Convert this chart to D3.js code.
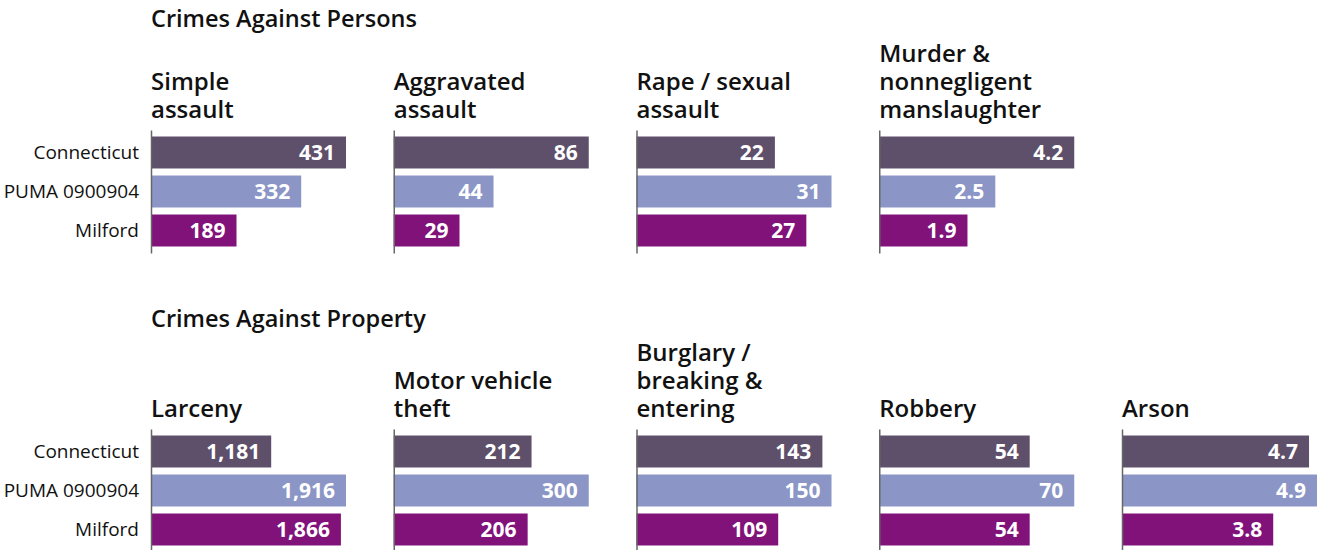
<!DOCTYPE html>
<html>
<head>
<meta charset="utf-8">
<script src="https://cdn.jsdelivr.net/npm/d3@7"></script>
<style>
  body { margin: 0; background: #fff; }
  svg { display: block; font-family: "Open Sans", sans-serif; }
</style>
</head>
<body>
<svg width="1320" height="550"></svg>
<script>
// places shown in every panel, top to bottom
var places = ["Connecticut", "PUMA 0900904", "Milford"];
var placeColors = ["#5e4f6a", "#8b96c7", "#81127a"];

// Crimes against persons (rate values per panel, same order as places)
var personsCrimes = ["Simple\nassault", "Aggravated\nassault", "Rape / sexual\nassault", "Murder &\nnonnegligent\nmanslaughter"];
var simpleAssault = [431, 332, 189];
var aggravatedAssault = [86, 44, 29];
var rapeSexualAssault = [22, 31, 27];
var murder = [4.2, 2.5, 1.9];

// Crimes against property
var propertyCrimes = ["Larceny", "Motor vehicle\ntheft", "Burglary /\nbreaking &\nentering", "Robbery", "Arson"];
var larceny = [1181, 1916, 1866];
var motorVehicleTheft = [212, 300, 206];
var burglary = [143, 150, 109];
var robbery = [54, 70, 54];
var arson = [4.7, 4.9, 3.8];

var svg = d3.select("svg");

var panelX = d3.scalePoint().domain(d3.range(5)).range([151, 1122]);
var barMax = 195;

function fmt(v) {
  return v < 10 ? d3.format(".1f")(v) : d3.format(",")(v);
}

function drawGroup(title, titleY, crimes, values, top) {
  svg.append("text")
    .attr("x", 151)
    .attr("y", titleY)
    .attr("font-size", "23.5px")
    .attr("font-weight", 600)
    .attr("fill", "#111")
    .text(title);

  var y = d3.scaleBand()
    .domain(places)
    .range([top, top + 123])
    .paddingInner(0.18)
    .paddingOuter(0.167);

  crimes.forEach(function (crime, i) {
    var g = svg.append("g")
      .attr("transform", "translate(" + panelX(i) + ",0)");
    var vals = values[i];
    var x = d3.scaleLinear()
      .domain([0, d3.max(vals)])
      .range([0, barMax]);

    // panel title, bottom aligned above the bars
    var lines = crime.split("\n");
    g.append("text")
      .attr("font-size", "24px")
      .attr("font-weight", 600)
      .attr("fill", "#111")
      .selectAll("tspan")
      .data(lines)
      .enter()
      .append("tspan")
      .attr("x", 0)
      .attr("y", function (d, j) {
        return top - 12 - (lines.length - 1 - j) * 28;
      })
      .text(function (d) { return d; });

    g.selectAll("rect")
      .data(vals)
      .enter()
      .append("rect")
      .attr("x", 0)
      .attr("y", function (d, j) { return y(places[j]); })
      .attr("width", function (d) { return x(d); })
      .attr("height", y.bandwidth())
      .attr("fill", function (d, j) { return placeColors[j]; });

    g.selectAll(".val")
      .data(vals)
      .enter()
      .append("text")
      .attr("class", "val")
      .attr("x", function (d) { return x(d) - 11; })
      .attr("y", function (d, j) { return y(places[j]) + y.bandwidth() / 2; })
      .attr("dy", "0.36em")
      .attr("text-anchor", "end")
      .attr("font-size", "21px")
      .attr("font-weight", 700)
      .attr("fill", "#fff")
      .text(fmt);

    var axis = d3.axisLeft(y).tickSize(0).tickSizeOuter(0).tickPadding(12);
    if (i > 0) axis.tickFormat("");
    var ag = g.append("g").call(axis);
    ag.select(".domain").attr("stroke", "#666").attr("stroke-width", 1.5);
    ag.selectAll("text")
      .attr("font-family", "'Open Sans', sans-serif")
      .attr("font-size", "19px")
      .attr("fill", "#111");
  });
}

drawGroup("Crimes Against Persons", 27, personsCrimes,
  [simpleAssault, aggravatedAssault, rapeSexualAssault, murder], 130);
drawGroup("Crimes Against Property", 327, propertyCrimes,
  [larceny, motorVehicleTheft, burglary, robbery, arson], 429);
</script>
</body>
</html>
